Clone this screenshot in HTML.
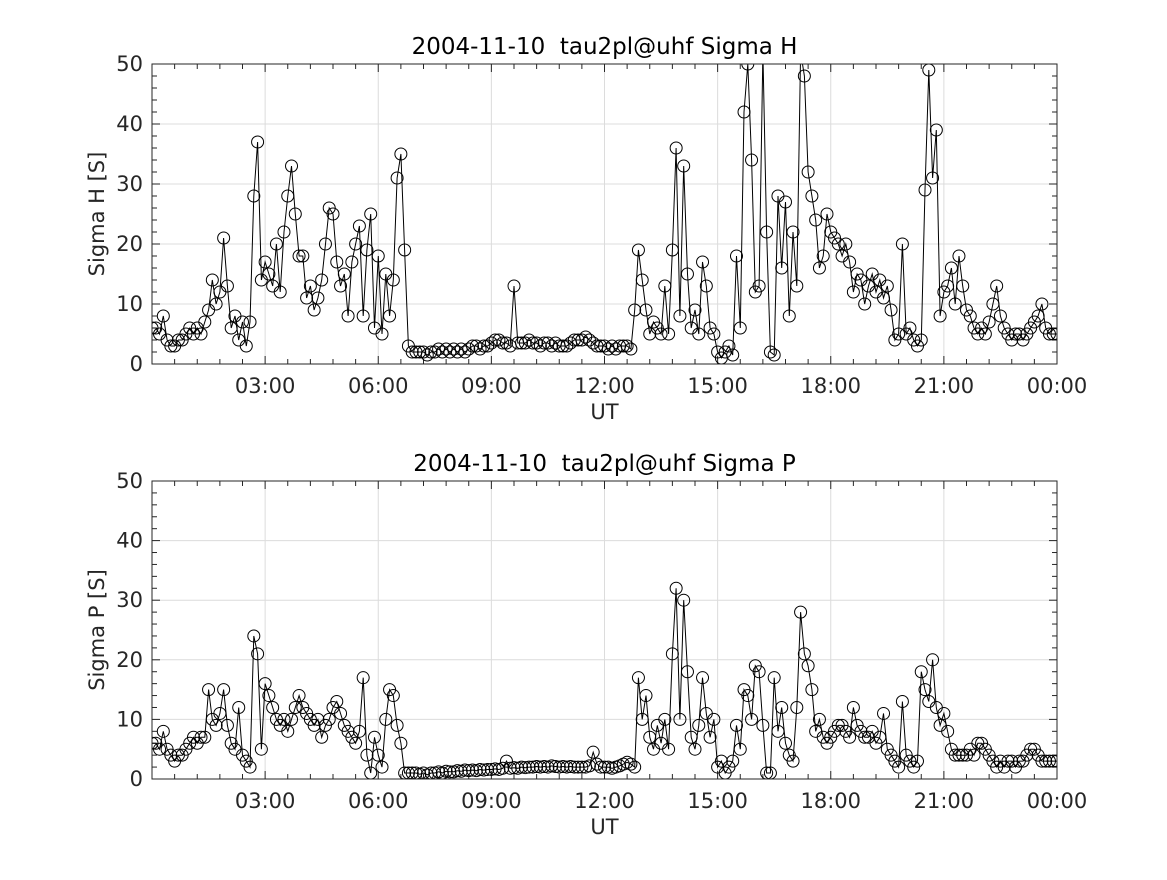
<!DOCTYPE html>
<html><head><meta charset="utf-8"><style>
body{margin:0;background:#fff}
svg text{font-family:"DejaVu Sans","Liberation Sans",sans-serif;fill:#262626}
</style></head><body>
<svg id="fig" width="1167" height="875" viewBox="0 0 1167 875" xmlns="http://www.w3.org/2000/svg">
<rect width="1167" height="875" fill="#fff"/>
</svg>
<script>
// time axis: samples every 0.1 h from 0.0 h
const tStart = 0;
const tStep = 0.1;
const xTickLabels = ["03:00","06:00","09:00","12:00","15:00","18:00","21:00","00:00"];
const xTickHours = [3,6,9,12,15,18,21,24];
const yTickValues = [0,10,20,30,40,50];
const sigmaH = [
6,6,5,8,4,3,3,4,4,5,
6,5,6,5,7,9,14,10,12,21,
13,6,8,4,7,3,7,28,37,14,
17,15,13,20,12,22,28,33,25,18,
18,11,13,9,11,14,20,26,25,17,
13,15,8,17,20,23,8,19,25,6,
18,5,15,8,14,31,35,19,3,2,
2,2,2,1.5,2,2,2.5,2,2.5,2,
2.5,2,2.5,2,2.5,3,3,2.5,3,3,
3.5,4,4,3.5,3.5,3,13,3.5,3.5,3.5,
4,3.5,3.5,3,3.5,3.5,3,3.5,3,3,
3,3.5,4,4,4,4.5,4,3.5,3,3,
3,2.5,3,2.5,3,3,3,2.5,9,19,
14,9,5,7,6,5,13,5,19,36,
8,33,15,6,9,5,17,13,6,5,
2,1,2,3,1.5,18,6,42,50,34,
12,13,52,22,2,1.5,28,16,27,8,
22,13,52,48,32,28,24,16,18,25,
22,21,20,18,20,17,12,15,14,10,
13,15,12,14,11,13,9,4,5,20,
5,6,4,3,4,29,49,31,39,8,
12,13,16,10,18,13,9,8,6,5,
6,5,7,10,13,8,6,5,4,5,
5,4,5,6,7,8,10,6,5,5,5];
const sigmaP = [
6,6,5,8,5,4,3,4,4,5,
6,7,6,7,7,15,10,9,11,15,
9,6,5,12,4,3,2,24,21,5,
16,14,12,10,9,10,8,10,12,14,
12,11,10,9,10,7,9,10,12,13,
11,9,8,7,6,8,17,4,1,7,
4,2,10,15,14,9,6,1,1,1,
1,0.8,1,0.7,1,1,1.2,1,1.3,1.2,
1.2,1.4,1.3,1.5,1.4,1.5,1.4,1.6,1.5,1.6,
1.6,1.7,1.6,1.8,3,1.8,1.9,1.8,2,1.9,
2,2,2.1,2,2.1,2,2.2,2.1,2,2.1,
2,2.1,2,2,2,2,2.2,4.5,2.5,2,
2,2,1.8,2,2.2,2.5,2.8,2.5,2,17,
10,14,7,5,9,6,10,5,21,32,
10,30,18,7,5,9,17,11,7,10,
2,3,1,2,3,9,5,15,14,10,
19,18,9,1,1,17,8,12,6,4,
3,12,28,21,19,15,8,10,7,6,
7,8,9,9,8,7,12,9,8,7,
7,8,6,7,11,5,4,3,2,13,
4,3,2,3,18,15,13,20,12,9,
11,8,5,4,4,4,4,5,4,6,
6,5,4,3,2,3,2,3,3,2,
3,3,4,5,5,4,3,3,3,3,3];

const NS="http://www.w3.org/2000/svg";
const svg=document.getElementById('fig');
function mk(tag,attrs,parent){const e=document.createElementNS(NS,tag);for(const k in attrs)e.setAttribute(k,attrs[k]);(parent||svg).appendChild(e);return e;}

function panel(id,top,bottom,title,ylabel,values){
  const L=152,R=1057;
  const x=h=>L+(h-0)/24*(R-L);
  const y=v=>bottom-(v/50)*(bottom-top);
  const g=mk('g',{});
  
  
  xTickHours.forEach(h=>{const l=mk('line',{x1:x(h),x2:x(h),y1:top,y2:bottom,stroke:'#dcdcdc','stroke-width':1},g);
    });
  yTickValues.forEach(v=>{const l=mk('line',{x1:L,x2:R,y1:y(v),y2:y(v),stroke:'#dcdcdc','stroke-width':1},g);
    });
  for(let m=0;m<=24;m+=0.6){const xx=x(m);const major=Math.abs(m/3-Math.round(m/3))<1e-6;const len=major?8:5;
    mk('line',{x1:xx,x2:xx,y1:bottom,y2:bottom-len,stroke:'#262626'},g);
    mk('line',{x1:xx,x2:xx,y1:top,y2:top+len,stroke:'#262626'},g);}
  for(let v=0;v<=50;v+=2){const yy=y(v);const major=v%10===0;const len=major?8:5;
    mk('line',{x1:L,x2:L+len,y1:yy,y2:yy,stroke:'#262626'},g);
    mk('line',{x1:R,x2:R-len,y1:yy,y2:yy,stroke:'#262626'},g);}
  const cid='clip-'+id;
  const cp=mk('clipPath',{id:cid},g);mk('rect',{x:L,y:top,width:R-L,height:bottom-top},cp);
  const dg=mk('g',{'clip-path':'url(#'+cid+')'},g);
  
  
  const pts=values.map((v,i)=>[x(tStart+i*tStep),y(v)]);
  const pl=mk('polyline',{points:pts.map(p=>p[0].toFixed(1)+','+p[1].toFixed(1)).join(' '),fill:'none',stroke:'#000','stroke-width':1},dg);
  
  
  pts.forEach(p=>{const c=mk('circle',{cx:p[0],cy:p[1],r:6,fill:'none',stroke:'#000','stroke-width':1},dg);
    
    });
  const fr=mk('rect',{x:L,y:top,width:R-L,height:bottom-top,fill:'none',stroke:'#262626','stroke-width':1},g);
  
  
  xTickHours.forEach((h,i)=>{const t=mk('text',{x:x(h),y:bottom+29,'text-anchor':'middle','font-size':21},g);t.textContent=xTickLabels[i];
    });
  yTickValues.forEach(v=>{const t=mk('text',{x:L-9,y:y(v)+7,'text-anchor':'end','font-size':21},g);t.textContent=v;
    });
  const tt=mk('text',{x:(L+R)/2,y:top-10,'text-anchor':'middle','font-size':23,style:'fill:#000;white-space:pre'},g);tt.textContent=title;
  
  const xl=mk('text',{x:(L+R)/2,y:bottom+55,'text-anchor':'middle','font-size':21},g);xl.textContent='UT';
  
  const cy=(top+bottom)/2;
  const yl=mk('text',{x:104,y:cy,'text-anchor':'middle','font-size':21,transform:'rotate(-90 104 '+cy+')'},g);yl.textContent=ylabel;
  
}
panel('sigma-h',64,364,'2004-11-10  tau2pl@uhf Sigma H','Sigma H [S]',sigmaH);
panel('sigma-p',481,779,'2004-11-10  tau2pl@uhf Sigma P','Sigma P [S]',sigmaP);
</script>
</body></html>
